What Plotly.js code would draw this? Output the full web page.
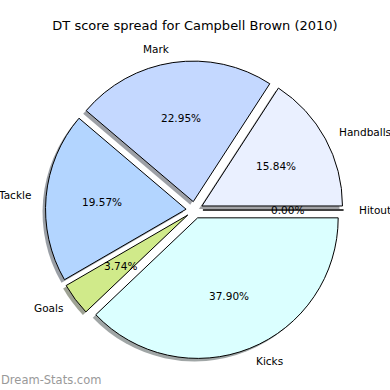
<!DOCTYPE html>
<html><head><meta charset="utf-8">
<script src="https://cdn.plot.ly/plotly-3.0.1.min.js"></script>
<style>html,body{margin:0;padding:0;background:#fff}#chart{width:390px;height:390px}</style>
</head><body><div id="chart"></div>
<script>
const labels = ["Handballs", "Mark", "Tackle", "Goals", "Kicks", "Hitout"];
const values = [15.84, 22.95, 19.57, 3.74, 37.90, 0.00];
const colors = ["#eaf0ff", "#c4d8ff", "#b3d5ff", "#d0ea8a", "#dbffff", "#ffffff"];
const title = "DT score spread for Campbell Brown (2010)";
const watermark = "Dream-Stats.com";

const pull = 0.06;
const font = {family: "DejaVu Sans", size: 10.5, color: "#000"};

const W = 390, H = 390;
const cx = 194.5, cy = 210, half = 149;
const dom = (ox, oy) => ({
  x: [(cx + ox - half) / W, (cx + ox + half) / W],
  y: [(H - cy - oy - half) / H, (H - cy - oy + half) / H]
});

function shade(hex) {
  const r = parseInt(hex.slice(1,3),16), g = parseInt(hex.slice(3,5),16), b = parseInt(hex.slice(5,7),16);
  return `rgba(${Math.round(r*0.3)},${Math.round(g*0.3)},${Math.round(b*0.3)},0.5)`;
}

const total = values.reduce((a, b) => a + b, 0);
// Plotly (counterclockwise) ends the first slice at the rotation angle; make it start at 3 o'clock
const rotation = 90 - values[0] / total * 360;

const common = {
  type: "pie", values: values, labels: labels, sort: false,
  direction: "counterclockwise", rotation: rotation, pull: pull,
  textinfo: "none", hoverinfo: "skip", showlegend: false
};
const shadow = Object.assign({}, common, {
  domain: dom(-3, 3),
  marker: {colors: colors.map(shade), line: {width: 0}}
});
const main = Object.assign({}, common, {
  domain: dom(0, 0),
  marker: {colors: colors, line: {color: "#000", width: 1}}
});

const layout = {
  width: W, height: H, margin: {l: 0, r: 0, t: 0, b: 0},
  paper_bgcolor: "#fff",
  title: {text: title, font: {family: "DejaVu Sans", size: 13, color: "#000"}, x: 0.5, xanchor: "center", y: 0.935, yanchor: "middle"},
  annotations: []
};

const gd = document.getElementById("chart");
Plotly.newPlot(gd, [shadow, main], layout, {staticPlot: true}).then(() => {
  // read the pie's own geometry and place matplotlib-style texts from it
  const c0 = gd.calcdata[1][0];
  const R = c0.r, pcx = c0.cx, pcy = c0.cy;
  const anns = [];
  let acc = 0;
  values.forEach((v, i) => {
    const mid = (acc + v / 2) / total * 2 * Math.PI; acc += v;
    const ca = Math.cos(mid), sa = Math.sin(mid);
    const px = (d) => (pcx + d * R * ca) / W;
    const py = (d) => 1 - (pcy - d * R * sa) / H;
    anns.push({text: (v / total * 100).toFixed(2) + "%", xref: "paper", yref: "paper",
      x: px(pull + 0.6), y: py(pull + 0.6), xanchor: "center", yanchor: "middle",
      showarrow: false, borderpad: 0, font: font});
    anns.push({text: labels[i], xref: "paper", yref: "paper",
      x: px(pull + 1.1), y: py(pull + 1.1), xanchor: ca >= 0 ? "left" : "right", yanchor: "middle",
      showarrow: false, borderpad: 0, font: font});
  });
  anns.push({text: watermark, xref: "paper", yref: "paper", x: 0, y: 0.005, xanchor: "left", yanchor: "bottom",
    showarrow: false, borderpad: 0, font: {family: "DejaVu Sans", size: 11.5, color: "#999"}});
  return Plotly.relayout(gd, {annotations: anns});
});
</script></body></html>
